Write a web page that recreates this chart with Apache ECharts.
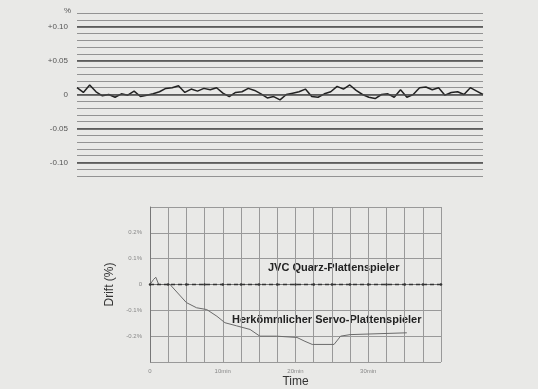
<!DOCTYPE html>
<html>
<head>
<meta charset="utf-8">
<script src="https://cdn.jsdelivr.net/npm/echarts@6/dist/echarts.min.js"></script>
<style>
  html,body{margin:0;padding:0;background:#e9e9e7;}
  #main{width:538px;height:389px;}
</style>
</head>
<body>
<div id="main"></div>
<script>
// oben: Gleichlaufschwankung (%), gleichmaessig abgetastet
var wowValues = [0.010,0.003,0.014,0.004,-0.002,0.000,-0.004,0.001,-0.001,0.005,-0.003,-0.001,0.001,0.004,0.009,0.010,
  0.013,0.003,0.008,0.005,0.009,0.007,0.010,0.002,-0.003,0.003,0.004,0.009,0.006,0.001,-0.005,-0.003,
  -0.008,0.000,0.002,0.004,0.008,-0.003,-0.004,0.001,0.004,0.012,0.008,0.014,0.006,0.000,-0.004,-0.006,
  0.000,0.001,-0.004,0.007,-0.004,0.000,0.010,0.011,0.007,0.010,-0.001,0.003,0.004,0.000,0.010,0.005,0.000];
var wowSamples = wowValues.map(function(v,i){return i;});
var wowMajor = [0.10,0.05,0,-0.05,-0.10];

// unten: Drift ueber die Zeit (min, %)
var jvcTime  = [0,2.5,5,7.5,10,12.5,15,17.5,20,22.5,25,27.5,30,32.5,35,37.5,40];
var jvcDrift = [0,0,0,0,0,0,0,0,0,0,0,0,0,0,0,0,0];
var servoTime  = [0,0.5,0.8,1.2,2.75,5.0,6.4,7.8,9.2,10.3,11.9,13.75,15.1,17.4,20.2,21.3,22.3,25.3,26.2,27.5,35.3];
var servoDrift = [0,0.02,0.028,0,0,-0.07,-0.09,-0.097,-0.123,-0.148,-0.16,-0.174,-0.2,-0.2,-0.205,-0.22,-0.232,-0.232,-0.2,-0.194,-0.187];
var timeLabels = {0:'0',10:'10min',20:'20min',30:'30min'};
var driftLabels = {'0.2':'0.2%','0.1':'0.1%','0':'0','-0.1':'-0.1%','-0.2':'-0.2%'};

var chart = echarts.init(document.getElementById('main'));
var font = '"Liberation Sans", Arial, sans-serif';

function zip(a,b){ return a.map(function(x,i){return [x,b[i]];}); }

var option = {
  backgroundColor:'#e9e9e7',
  animation:false,
  grid:[
    {left:77, right:55, top:13, bottom:213},
    {left:150, right:97, top:207, bottom:26}
  ],
  xAxis:[
    {gridIndex:0, type:'category', data:wowSamples, boundaryGap:false, show:false},
    {gridIndex:1, type:'value', min:0, max:40, interval:2.5,
      axisLine:{show:true, lineStyle:{color:'#777', width:1}},
      axisTick:{show:false},
      axisLabel:{fontSize:6, color:'#888', fontFamily:font, margin:6,
        formatter:function(v){ return timeLabels[v] !== undefined ? timeLabels[v] : ''; }},
      splitLine:{show:true, lineStyle:{color:'#999', width:1}},
      name:'Time', nameLocation:'middle', nameGap:14,
      nameTextStyle:{fontSize:12, color:'#333', fontFamily:font}
    }
  ],
  yAxis:[
    {gridIndex:0, type:'value', min:-0.12, max:0.12, interval:0.01,
      axisLine:{show:false}, axisTick:{show:false},
      axisLabel:{fontSize:8, color:'#555', fontFamily:font, margin:9,
        formatter:function(v){
          var k = Math.round(v*100);
          if(k % 5 !== 0) return '';
          if(k === 0) return '0';
          return (k > 0 ? '+' : '-') + Math.abs(k/100).toFixed(2);
        }},
      splitLine:{show:true, lineStyle:{color:'#939393', width:1}},
      name:'%', nameGap:-2, nameTextStyle:{fontSize:8, color:'#555', fontFamily:font, align:'right', padding:[0,6,0,0]}
    },
    {gridIndex:1, type:'value', min:-0.3, max:0.3, interval:0.1,
      axisLine:{show:true, lineStyle:{color:'#777', width:1}},
      axisTick:{show:false},
      axisLabel:{fontSize:6, color:'#888', fontFamily:font, margin:8,
        formatter:function(v){
          var k = (Math.round(v*10)/10).toString();
          return driftLabels[k] !== undefined ? driftLabels[k] : '';
        }},
      splitLine:{show:true, lineStyle:{color:'#999', width:1}},
      name:'Drift (%)', nameLocation:'middle', nameGap:33,
      nameTextStyle:{fontSize:12, color:'#333', fontFamily:font}
    }
  ],
  graphic:[
    {type:'text', left:268, top:262, style:{text:'JVC Quarz-Plattenspieler', fill:'#222', font:'bold 11px ' + font}},
    {type:'text', left:232, top:314, style:{text:'Herkömmlicher Servo-Plattenspieler', fill:'#222', font:'bold 11px ' + font}}
  ],
  series:[
    {type:'line', xAxisIndex:0, yAxisIndex:0, data:wowValues, symbol:'none',
      lineStyle:{color:'#222', width:1.5},
      markLine:{silent:true, symbol:'none', label:{show:false},
        lineStyle:{color:'#4a4a4a', width:1.5, type:'solid'},
        data:wowMajor.map(function(v){return {yAxis:v};})}
    },
    {type:'line', xAxisIndex:1, yAxisIndex:1, data:zip(servoTime, servoDrift), symbol:'none',
      lineStyle:{color:'#6a6a6a', width:1}
    },
    {type:'line', xAxisIndex:1, yAxisIndex:1, data:zip(jvcTime, jvcDrift), symbol:'circle', symbolSize:2.5,
      itemStyle:{color:'#333'},
      lineStyle:{color:'#333', width:1.6, type:[4,3]}
    }
  ]
};
chart.setOption(option);
</script>
</body>
</html>
